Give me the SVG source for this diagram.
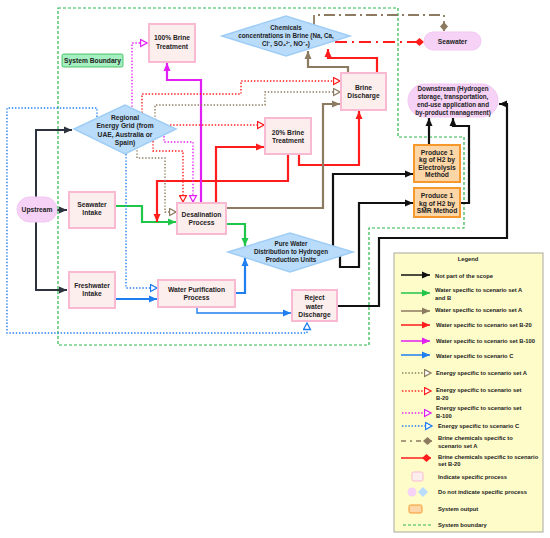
<svg xmlns="http://www.w3.org/2000/svg" width="550" height="538" viewBox="0 0 550 538">
<style>
text{font-family:"Liberation Sans",Arial,sans-serif;font-weight:bold;fill:#222;text-anchor:middle;dominant-baseline:central}
.n{font-size:6.7px}
.s{font-size:6.3px}
.lg{font-size:5.8px;text-anchor:start}
.proc{fill:#fdeeee;stroke:#f9b9d3;stroke-width:2}
.dia{fill:#b9dcfa;stroke:#9fcdf6;stroke-width:1.5}
.pill{fill:#f6d2f6;stroke:#f2c8f2;stroke-width:1}
.out{fill:#fcd6a6;stroke:#f7982c;stroke-width:2}
.c{fill:none;stroke-linejoin:miter}
.k{stroke:#111;stroke-width:2.2}
.ku{stroke:#2c333e;stroke-width:2}
.g{stroke:#1fc64a;stroke-width:2.2}
.b{stroke:#8c7b60;stroke-width:2.2}
.r{stroke:#ff1c1c;stroke-width:2.2}
.m{stroke:#e21ff2;stroke-width:2.2}
.u{stroke:#1f7ef0;stroke-width:2.2}
.d{stroke-width:1.4;stroke-dasharray:1.4,1.8}
.bnd{fill:none;stroke:#2db84d;stroke-width:1.2;stroke-dasharray:3,2}
</style>
<defs>
<marker id="aK" markerUnits="userSpaceOnUse" markerWidth="9" markerHeight="8" refX="8" refY="4" orient="auto"><path d="M0,0.5 L8,4 L0,7.5 z" fill="#111"/></marker>
<marker id="aKu" markerUnits="userSpaceOnUse" markerWidth="9" markerHeight="8" refX="8" refY="4" orient="auto"><path d="M0,0.5 L8,4 L0,7.5 z" fill="#2c333e"/></marker>
<marker id="aG" markerUnits="userSpaceOnUse" markerWidth="9" markerHeight="8" refX="8" refY="4" orient="auto"><path d="M0,0.5 L8,4 L0,7.5 z" fill="#1fc64a"/></marker>
<marker id="aB" markerUnits="userSpaceOnUse" markerWidth="9" markerHeight="8" refX="8" refY="4" orient="auto"><path d="M0,0.5 L8,4 L0,7.5 z" fill="#8c7b60"/></marker>
<marker id="aR" markerUnits="userSpaceOnUse" markerWidth="9" markerHeight="8" refX="8" refY="4" orient="auto"><path d="M0,0.5 L8,4 L0,7.5 z" fill="#ff1c1c"/></marker>
<marker id="aM" markerUnits="userSpaceOnUse" markerWidth="9" markerHeight="8" refX="8" refY="4" orient="auto"><path d="M0,0.5 L8,4 L0,7.5 z" fill="#e21ff2"/></marker>
<marker id="aU" markerUnits="userSpaceOnUse" markerWidth="9" markerHeight="8" refX="8" refY="4" orient="auto"><path d="M0,0.5 L8,4 L0,7.5 z" fill="#1f7ef0"/></marker>
<marker id="oB" markerUnits="userSpaceOnUse" markerWidth="9" markerHeight="9" refX="7.5" refY="4.5" orient="auto"><path d="M1,1 L7.5,4.5 L1,8 z" fill="#fff" stroke="#8c7b60" stroke-width="1.3"/></marker>
<marker id="oR" markerUnits="userSpaceOnUse" markerWidth="9" markerHeight="9" refX="7.5" refY="4.5" orient="auto"><path d="M1,1 L7.5,4.5 L1,8 z" fill="#fff" stroke="#ff1c1c" stroke-width="1.3"/></marker>
<marker id="oM" markerUnits="userSpaceOnUse" markerWidth="9" markerHeight="9" refX="7.5" refY="4.5" orient="auto"><path d="M1,1 L7.5,4.5 L1,8 z" fill="#fff" stroke="#e21ff2" stroke-width="1.3"/></marker>
<marker id="oU" markerUnits="userSpaceOnUse" markerWidth="9" markerHeight="9" refX="7.5" refY="4.5" orient="auto"><path d="M1,1 L7.5,4.5 L1,8 z" fill="#fff" stroke="#1f7ef0" stroke-width="1.3"/></marker>
<marker id="dB" markerUnits="userSpaceOnUse" markerWidth="10" markerHeight="10" refX="9" refY="5" orient="auto"><path d="M0,5 L4.5,1 L9,5 L4.5,9 z" fill="#8c7b60"/></marker>
<marker id="dR" markerUnits="userSpaceOnUse" markerWidth="10" markerHeight="10" refX="9" refY="5" orient="auto"><path d="M0,5 L4.5,1 L9,5 L4.5,9 z" fill="#ff1c1c"/></marker>
</defs>
<rect width="550" height="538" fill="#fff"/>

<g id="system-boundary">
<path class="bnd" d="M58,8 H398 V137 H464 V228 H369 V345 H58 Z"/>
</g>

<g id="connectors">
<!-- upstream -->
<path class="c ku" d="M36,209 V130 H72" marker-end="url(#aKu)"/>
<path class="c ku" d="M36,209 V290 H67" marker-end="url(#aKu)"/>
<path class="c ku" d="M57,210 H67" marker-end="url(#aKu)"/>
<!-- black -->
<path class="c k" d="M333,249 V174 H413" marker-end="url(#aK)"/>
<path class="c k" d="M340,256 V267 H359 V203 H413" marker-end="url(#aK)"/>
<path class="c k" d="M460,203 H469 V126 H453 V118" marker-end="url(#aK)"/>
<path class="c k" d="M429,145 V118" marker-end="url(#aK)"/>
<path class="c k" d="M337,306 H379 V238 H507 V104 H499" marker-end="url(#aK)"/>
<!-- green -->
<path class="c g" d="M115,206 H142 V222 H176" marker-end="url(#aG)"/>
<path class="c g" d="M226,224 H245 V246" marker-end="url(#aG)"/>
<!-- blue water -->
<path class="c u" d="M115,299 H157" marker-end="url(#aU)"/>
<path class="c u" d="M235,293 H245 V258" marker-end="url(#aU)"/>
<path class="c u" style="stroke-width:1.4" d="M197,307 V313 H291" marker-end="url(#aU)"/>
<!-- red water -->
<path class="c r" d="M216,203 V147 H264" marker-end="url(#aR)"/>
<path class="c r" d="M288,154 V181 H157 V222" marker-end="url(#aR)"/>
<path class="c r" d="M299,154 V165 H359 V111" marker-end="url(#aR)"/>
<path class="c r" d="M377,73 V58 H328 V49" marker-end="url(#aR)"/>
<!-- brown water -->
<path class="c b" d="M226,208 H323 V104 H340" marker-end="url(#aB)"/>
<path class="c b" d="M348,73 V67 H308 V51" marker-end="url(#aB)"/>
<!-- magenta water -->
<path class="c m" d="M201,203 V80 H167 V63" marker-end="url(#aM)"/>
<!-- brine chemicals -->
<path class="c" style="stroke:#8c7b60;stroke-width:1.8;stroke-dasharray:11,4,2,4" d="M314,26 V15 H444 V31" marker-end="url(#dB)"/>
<path class="c" style="stroke:#ff1c1c;stroke-width:1.8;stroke-dasharray:12,5,2,5" d="M335,42 H424" marker-end="url(#dR)"/>
<!-- energy -->
<path class="c d" style="stroke:#e21ff2" d="M132,110 V43 H147" marker-end="url(#oM)"/>
<path class="c d" style="stroke:#ff1c1c" d="M142,113 V94 H241 V81 H340" marker-end="url(#oR)"/>
<path class="c d" style="stroke:#8c7b60" d="M155,120 V105 H265 V92 H340" marker-end="url(#oB)"/>
<path class="c d" style="stroke:#ff1c1c" d="M170,125 H264" marker-end="url(#oR)"/>
<path class="c d" style="stroke:#ff1c1c" d="M153,141 V151 H183 V202" marker-end="url(#oR)"/>
<path class="c d" style="stroke:#e21ff2" d="M164,136 V142 H193 V202" marker-end="url(#oM)"/>
<path class="c d" style="stroke:#8c7b60" d="M137,147 V158 H165 V212 H176" marker-end="url(#oB)"/>
<path class="c d" style="stroke:#1f7ef0" d="M97,117 V108 H7 V333 H307 V323" marker-end="url(#oU)"/>
<path class="c d" style="stroke:#1f7ef0" d="M126,154 V288 H157" marker-end="url(#oU)"/>
</g>

<g id="label-system-boundary"><rect x="62" y="54" width="61" height="13" rx="1.5" fill="#a5efc1" stroke="#2db84d" stroke-width="0.8"/><text class="n" x="92.5" y="60.5">System Boundary</text></g>

<g id="brine100"><rect class="proc" x="149" y="24" width="46" height="38"/><text class="n" x="172" y="37">100% Brine</text><text class="n" x="172" y="46">Treatment</text></g>

<g id="chemicals"><polygon class="dia" points="222,36 286,16 350,36 286,56"/><text class="s" x="286" y="27">Chemicals</text><text class="s" x="286" y="35">concentrations in Brine (Na, Ca,</text><text class="s" x="286" y="43">Cl⁻, SO₄²⁻, NO⁻₃)</text></g>

<g id="seawater"><rect class="pill" x="424" y="32" width="57" height="18" rx="9"/><text class="n" x="452.5" y="41">Seawater</text></g>

<g id="grid"><polygon class="dia" points="74,129 125,105 176,129 125,154"/><text class="n" x="125" y="117">Regional</text><text class="n" x="125" y="125.5">Energy Grid (from</text><text class="n" x="125" y="134">UAE, Australia or</text><text class="n" x="125" y="142.5">Spain)</text></g>

<g id="brine-discharge"><rect class="proc" x="341" y="73" width="45" height="37"/><text class="n" x="363.5" y="87">Brine</text><text class="n" x="363.5" y="95.5">Discharge</text></g>

<g id="downstream"><rect class="pill" x="408" y="84" width="90" height="33" rx="16.5"/><text class="s" x="453" y="88.5">Downstream (Hydrogen</text><text class="s" x="453" y="96.5">storage, transportation,</text><text class="s" x="453" y="104.5">end-use application and</text><text class="s" x="453" y="112.5">by-product management)</text></g>

<g id="brine20"><rect class="proc" x="265" y="118" width="46" height="36"/><text class="n" x="288" y="132">20% Brine</text><text class="n" x="288" y="140.5">Treatment</text></g>

<g id="upstream"><rect class="pill" x="17" y="197" width="40" height="25" rx="12.5"/><text class="n" x="37" y="209.5">Upstream</text></g>

<g id="seawater-intake"><rect class="proc" x="69" y="192" width="46" height="36"/><text class="n" x="92" y="204">Seawater</text><text class="n" x="92" y="212.5">Intake</text></g>

<g id="desalination"><rect class="proc" x="177" y="203" width="49" height="31"/><text class="n" x="201.5" y="214">Desalination</text><text class="n" x="201.5" y="222.5">Process</text></g>

<g id="electrolysis"><rect class="out" x="414" y="145" width="46" height="37"/><text class="n" x="437" y="152">Produce 1</text><text class="n" x="437" y="159.5">kg of H2 by</text><text class="n" x="437" y="167">Electrolysis</text><text class="n" x="437" y="174.5">Method</text></g>

<g id="smr"><rect class="out" x="414" y="188" width="46" height="29"/><text class="n" x="437" y="195.5">Produce 1</text><text class="n" x="437" y="203">kg of H2 by</text><text class="n" x="437" y="210.5">SMR Method</text></g>

<g id="pure-water"><polygon class="dia" points="228,252 290,233 353,252 290,272"/><text class="s" x="291" y="243.5">Pure Water</text><text class="s" x="291" y="251.5">Distribution to Hydrogen</text><text class="s" x="291" y="259.5">Production Units</text></g>

<g id="freshwater-intake"><rect class="proc" x="69" y="272" width="46" height="36"/><text class="n" x="92" y="285">Freshwater</text><text class="n" x="92" y="293.5">Intake</text></g>

<g id="purification"><rect class="proc" x="158" y="280" width="77" height="27"/><text class="n" x="196.5" y="289">Water Purification</text><text class="n" x="196.5" y="297.5">Process</text></g>

<g id="reject"><rect class="proc" x="292" y="290" width="45" height="31"/><text class="n" x="314.5" y="297.5">Reject</text><text class="n" x="314.5" y="306">water</text><text class="n" x="314.5" y="314.5">Discharge</text></g>

<g id="legend">
<rect x="394" y="253" width="149" height="279" fill="#fefcc9" stroke="#a8a8a0" stroke-width="1"/>
<text class="lg" x="468" y="258.5" style="text-anchor:middle">Legend</text>
<path class="c" style="stroke:#111;stroke-width:1.5" d="M401,275 H430" marker-end="url(#aK)"/>
<text class="lg" x="435" y="276">Not part of the scope</text>
<path class="c" style="stroke:#1fc64a;stroke-width:1.5" d="M401,293 H430" marker-end="url(#aG)"/>
<text class="lg" x="435" y="290">Water specific to scenario set A</text><text class="lg" x="435" y="297.5">and B</text>
<path class="c" style="stroke:#8c7b60;stroke-width:1.5" d="M401,311 H430" marker-end="url(#aB)"/>
<text class="lg" x="435" y="310">Water specific to scenario set A</text>
<path class="c" style="stroke:#ff1c1c;stroke-width:1.5" d="M401,325 H430" marker-end="url(#aR)"/>
<text class="lg" x="436" y="324.5">Water specific to scenario set B-20</text>
<path class="c" style="stroke:#e21ff2;stroke-width:1.5" d="M401,341 H430" marker-end="url(#aM)"/>
<text class="lg" x="436" y="340.5">Water specific to scenario set B-100</text>
<path class="c" style="stroke:#1f7ef0;stroke-width:1.5" d="M401,355 H430" marker-end="url(#aU)"/>
<text class="lg" x="436" y="355.5">Water specific to scenario C</text>
<path class="c d" style="stroke:#8c7b60" d="M402,373 H431" marker-end="url(#oB)"/>
<text class="lg" x="436" y="372.5">Energy specific to scenario set A</text>
<path class="c d" style="stroke:#ff1c1c" d="M402,391 H431" marker-end="url(#oR)"/>
<text class="lg" x="436" y="390">Energy specific to scenario set</text><text class="lg" x="436" y="397.5">B-20</text>
<path class="c d" style="stroke:#e21ff2" d="M402,413 H431" marker-end="url(#oM)"/>
<text class="lg" x="436" y="408">Energy specific to scenario set</text><text class="lg" x="436" y="415.5">B-100</text>
<path class="c d" style="stroke:#1f7ef0" d="M402,426 H432" marker-end="url(#oU)"/>
<text class="lg" x="438" y="426">Energy specific to scenario C</text>
<path class="c" style="stroke:#8c7b60;stroke-width:1.5;stroke-dasharray:5,4,2,4" d="M401,441 H432" marker-end="url(#dB)"/>
<text class="lg" x="438" y="438">Brine chemicals specific to</text><text class="lg" x="438" y="445.5">scenario set A</text>
<path class="c" style="stroke:#ff1c1c;stroke-width:1.5" d="M401,458 H431" marker-end="url(#dR)"/>
<text class="lg" x="438" y="456.5">Brine chemicals specific to scenario</text><text class="lg" x="438" y="464">set B-20</text>
<rect x="412" y="472" width="11" height="9" rx="1.5" fill="#fdeeee" stroke="#f9b9d3" stroke-width="1"/>
<text class="lg" x="438" y="476.5">Indicate specific process</text>
<circle cx="412" cy="492" r="4.5" fill="#f6d2f6"/>
<polygon points="418,492 423,487 428,492 423,497" fill="#b9dcfa"/>
<text class="lg" x="438" y="492">Do not indicate specific process</text>
<rect x="409" y="505" width="13" height="8" rx="1.5" fill="#fcd6a6" stroke="#f7982c" stroke-width="1"/>
<text class="lg" x="438" y="509">System output</text>
<path class="bnd" d="M403,525 H432"/>
<text class="lg" x="438" y="525">System boundary</text>
</g>
</svg>
